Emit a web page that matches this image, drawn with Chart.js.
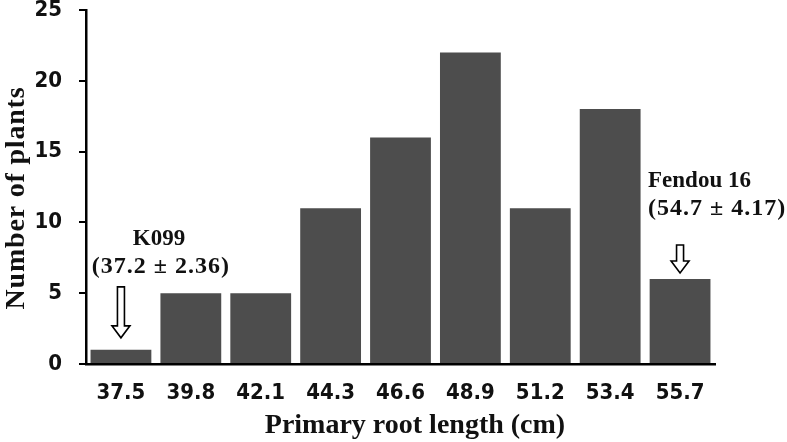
<!DOCTYPE html>
<html>
<head>
<meta charset="utf-8">
<script src="https://cdn.jsdelivr.net/npm/chart.js@4/dist/chart.umd.min.js"></script>
<style>
  html, body { margin: 0; padding: 0; background: #fff; }
  #wrap { width: 787px; height: 442px; position: relative; }
</style>
</head>
<body>
<div id="wrap"><canvas id="rootChart"></canvas></div>
<script>
const lengths = ["37.5", "39.8", "42.1", "44.3", "46.6", "48.9", "51.2", "53.4", "55.7"];
const plantCounts = [1, 5, 5, 11, 16, 22, 11, 18, 6];
const yTicks = [0, 5, 10, 15, 20, 25];

const k099Label = ["K099", "(37.2 \u00b1 2.36)"];
const fendouLabel = ["Fendou 16", "(54.7 \u00b1 4.17)"];
const xTitle = "Primary root length (cm)";
const yTitle = "Number of plants";

const serif = "'Liberation Serif', 'Times New Roman', serif";
const sans = "'DejaVu Sans Condensed', 'Liberation Sans Narrow', sans-serif";

function drawHollowArrow(ctx, x, top, tip) {
  const shaft = 3.5, head = 9, headLen = 12;
  ctx.beginPath();
  ctx.moveTo(x - shaft, top);
  ctx.lineTo(x + shaft, top);
  ctx.lineTo(x + shaft, tip - headLen);
  ctx.lineTo(x + head, tip - headLen);
  ctx.lineTo(x, tip);
  ctx.lineTo(x - head, tip - headLen);
  ctx.lineTo(x - shaft, tip - headLen);
  ctx.closePath();
  ctx.fillStyle = "#fff";
  ctx.fill();
  ctx.lineWidth = 1.6;
  ctx.strokeStyle = "#000";
  ctx.stroke();
}

function label(ctx, text, x, y, size, spacing) {
  ctx.fillStyle = "#111";
  ctx.font = "bold " + size + "px " + serif;
  ctx.letterSpacing = spacing || "0px";
  ctx.fillText(text, x, y);
}

// parent annotations and axis titles
const parentLabels = {
  id: "parentLabels",
  afterDraw(chart) {
    const ctx = chart.ctx;
    const x = chart.scales.x;
    const y = chart.scales.y;
    ctx.save();
    ctx.textBaseline = "alphabetic";

    // K099 over the first bar
    const kx = x.getPixelForValue(0);
    const kTop = y.getPixelForValue(plantCounts[0]);
    ctx.textAlign = "center";
    label(ctx, k099Label[0], kx + 38, kTop - 105, 23);
    label(ctx, k099Label[1], kx + 40, kTop - 77, 24, "1px");
    drawHollowArrow(ctx, kx, kTop - 63, kTop - 12);

    // Fendou 16 over the last bar
    const last = plantCounts.length - 1;
    const fx = x.getPixelForValue(last);
    const fTop = y.getPixelForValue(plantCounts[last]);
    ctx.textAlign = "left";
    label(ctx, fendouLabel[0], fx - 32, fTop - 92, 23);
    label(ctx, fendouLabel[1], fx - 32, fTop - 64, 24, "1px");
    drawHollowArrow(ctx, fx, fTop - 34, fTop - 6);

    // axis titles
    ctx.textAlign = "center";
    label(ctx, xTitle, 415, 433, 28);
    ctx.translate(24, 198);
    ctx.rotate(-Math.PI / 2);
    label(ctx, yTitle, 0, 0, 28, "0.8px");
    ctx.restore();
  }
};

new Chart(document.getElementById("rootChart"), {
  type: "bar",
  data: {
    labels: lengths,
    datasets: [{
      data: plantCounts,
      backgroundColor: "#4d4d4d",
      borderWidth: 0,
      categoryPercentage: 1,
      barPercentage: 0.87,
    }],
  },
  options: {
    responsive: true,
    maintainAspectRatio: false,
    animation: false,
    layout: { padding: { top: 10, right: 72, left: 0, bottom: 0 } },
    plugins: {
      legend: { display: false },
      tooltip: { enabled: false },
    },
    scales: {
      x: {
        grid: { display: false },
        border: { display: true, color: "#000", width: 2.5 },
        ticks: {
          color: "#111",
          padding: 8,
          maxRotation: 0,
          font: { family: sans, size: 22, weight: "bold" },
        },
        afterFit(scale) {
          scale.height = 78;
          scale.paddingLeft = 0;
          scale.paddingRight = 0;
        },
      },
      y: {
        min: 0,
        max: 25,
        afterBuildTicks(scale) { scale.ticks = yTicks.map((v) => ({ value: v })); },
        grid: { drawOnChartArea: false, drawTicks: true, tickLength: 7, color: "#000", lineWidth: 2 },
        border: { display: true, color: "#000", width: 2.5 },
        ticks: {
          color: "#111",
          padding: 17,
          font: { family: sans, size: 22, weight: "bold" },
        },
        afterFit(scale) {
          scale.width = 86;
          scale.paddingTop = 0;
          scale.paddingBottom = 0;
        },
      },
    },
  },
  plugins: [parentLabels],
});
</script>
</body>
</html>
